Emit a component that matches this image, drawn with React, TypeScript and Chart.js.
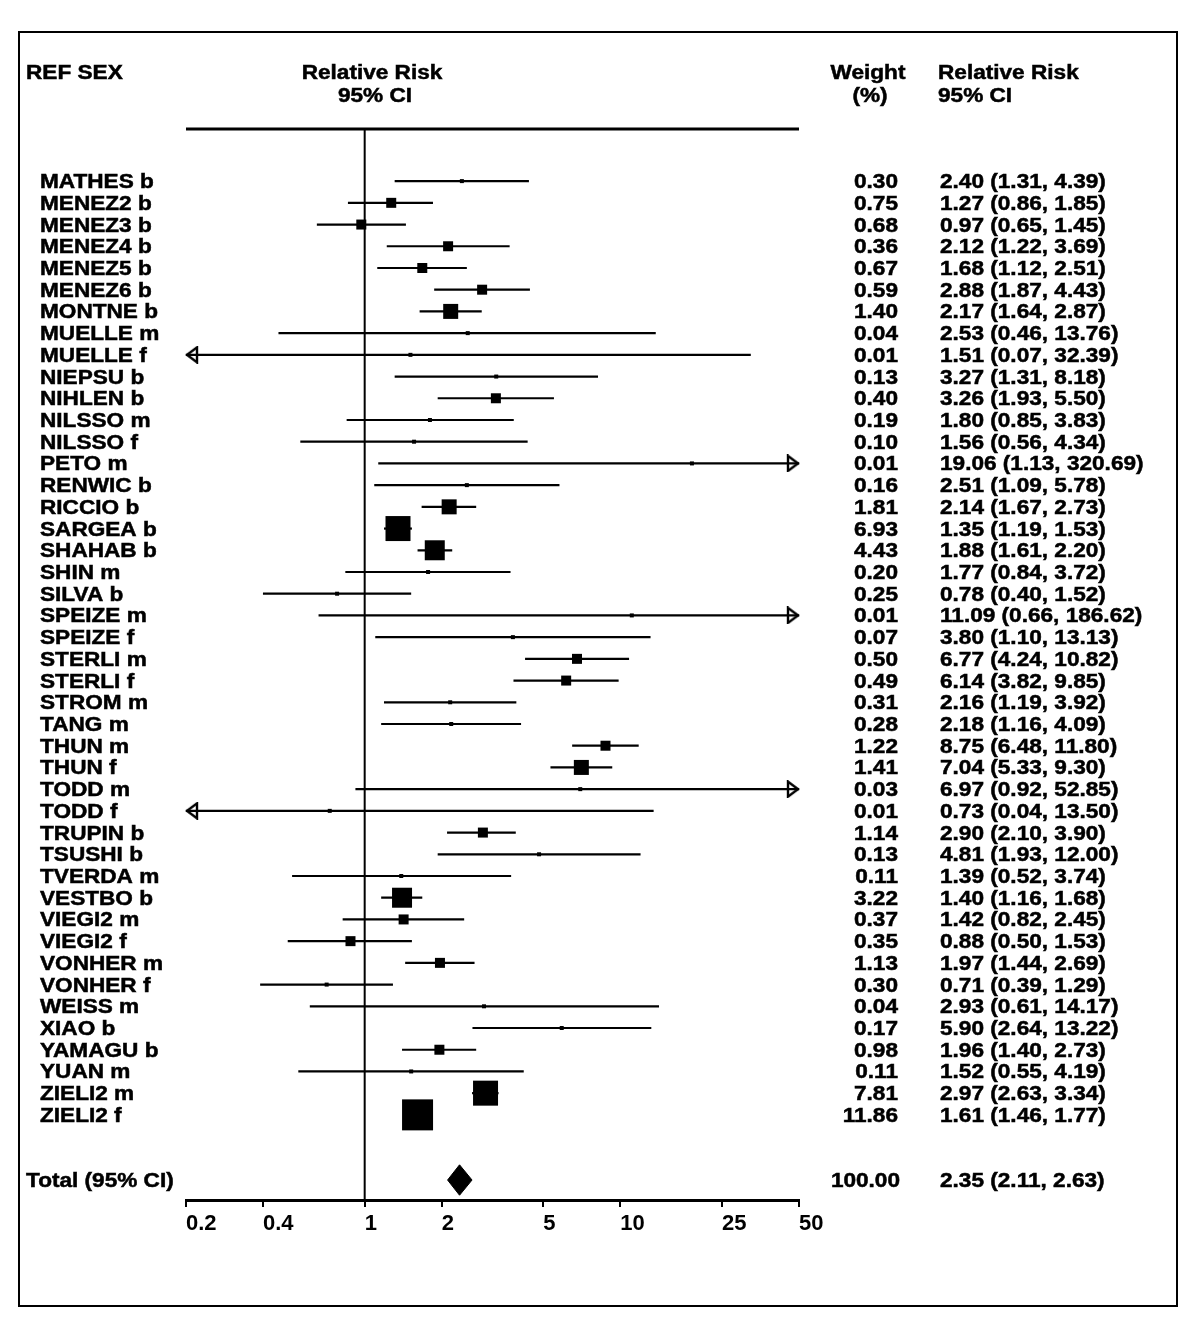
import React, { useEffect, useRef } from 'react';
import { Chart, registerables } from 'chart.js';

Chart.register(...registerables);

// ---------------- data ----------------
const studies = [
  'MATHES b', 'MENEZ2 b', 'MENEZ3 b', 'MENEZ4 b', 'MENEZ5 b', 'MENEZ6 b', 'MONTNE b', 'MUELLE m', 'MUELLE f',
  'NIEPSU b', 'NIHLEN b', 'NILSSO m', 'NILSSO f', 'PETO m', 'RENWIC b', 'RICCIO b', 'SARGEA b', 'SHAHAB b',
  'SHIN m', 'SILVA b', 'SPEIZE m', 'SPEIZE f', 'STERLI m', 'STERLI f', 'STROM m', 'TANG m', 'THUN m', 'THUN f',
  'TODD m', 'TODD f', 'TRUPIN b', 'TSUSHI b', 'TVERDA m', 'VESTBO b', 'VIEGI2 m', 'VIEGI2 f', 'VONHER m',
  'VONHER f', 'WEISS m', 'XIAO b', 'YAMAGU b', 'YUAN m', 'ZIELI2 m', 'ZIELI2 f',
];
const weights = [
  0.30, 0.75, 0.68, 0.36, 0.67, 0.59, 1.40, 0.04, 0.01,
  0.13, 0.40, 0.19, 0.10, 0.01, 0.16, 1.81, 6.93, 4.43,
  0.20, 0.25, 0.01, 0.07, 0.50, 0.49, 0.31, 0.28, 1.22, 1.41,
  0.03, 0.01, 1.14, 0.13, 0.11, 3.22, 0.37, 0.35, 1.13,
  0.30, 0.04, 0.17, 0.98, 0.11, 7.81, 11.86,
];
const relRisk = [
  2.40, 1.27, 0.97, 2.12, 1.68, 2.88, 2.17, 2.53, 1.51,
  3.27, 3.26, 1.80, 1.56, 19.06, 2.51, 2.14, 1.35, 1.88,
  1.77, 0.78, 11.09, 3.80, 6.77, 6.14, 2.16, 2.18, 8.75, 7.04,
  6.97, 0.73, 2.90, 4.81, 1.39, 1.40, 1.42, 0.88, 1.97,
  0.71, 2.93, 5.90, 1.96, 1.52, 2.97, 1.61,
];
const ciLower = [
  1.31, 0.86, 0.65, 1.22, 1.12, 1.87, 1.64, 0.46, 0.07,
  1.31, 1.93, 0.85, 0.56, 1.13, 1.09, 1.67, 1.19, 1.61,
  0.84, 0.40, 0.66, 1.10, 4.24, 3.82, 1.19, 1.16, 6.48, 5.33,
  0.92, 0.04, 2.10, 1.93, 0.52, 1.16, 0.82, 0.50, 1.44,
  0.39, 0.61, 2.64, 1.40, 0.55, 2.63, 1.46,
];
const ciUpper = [
  4.39, 1.85, 1.45, 3.69, 2.51, 4.43, 2.87, 13.76, 32.39,
  8.18, 5.50, 3.83, 4.34, 320.69, 5.78, 2.73, 1.53, 2.20,
  3.72, 1.52, 186.62, 13.13, 10.82, 9.85, 3.92, 4.09, 11.80, 9.30,
  52.85, 13.50, 3.90, 12.00, 3.74, 1.68, 2.45, 1.53, 2.69,
  1.29, 14.17, 13.22, 2.73, 4.19, 3.34, 1.77,
];
const totalLabel = 'Total (95% CI)';
const totalWeight = 100.0;
const totalRR = 2.35;
const totalLower = 2.11;
const totalUpper = 2.63;
const xTickValues = [0.2, 0.4, 1, 2, 5, 10, 25, 50];
const X_MIN = 0.2;
const X_MAX = 50;

// ---------------- layout / style ----------------
const TOTAL_ROW = 46;
const Y_MIN = -2.4;
const Y_MAX = 46.92;
const W = 1184;
const H = 1310;
const FONT = 'bold 20px "Liberation Sans", Arial, Helvetica, sans-serif';
const SX = 1.13;

function markerSide(w: number): number {
  if (w < 0.33) return 4;
  if (w < 1.3) return 10;
  if (w < 2) return 15;
  if (w < 5) return 20;
  if (w < 10) return 25;
  return 31;
}

function makeArrow(): HTMLCanvasElement {
  const c = document.createElement('canvas');
  c.width = 28;
  c.height = 18;
  const g = c.getContext('2d')!;
  g.strokeStyle = '#000';
  g.lineWidth = 2.4;
  g.beginPath();
  g.moveTo(13, 9);
  g.lineTo(3, 1.5);
  g.lineTo(3, 16.5);
  g.closePath();
  g.stroke();
  return c;
}

function drawText(ctx: CanvasRenderingContext2D, s: string, x: number, y: number, align: CanvasTextAlign) {
  ctx.save();
  ctx.translate(x, y + 7);
  ctx.scale(SX, 1);
  ctx.textAlign = align;
  ctx.textBaseline = 'alphabetic';
  ctx.fillText(s, 0, 0);
  ctx.strokeText(s, 0, 0);
  ctx.restore();
}

const f2 = (v: number) => v.toFixed(2);

const textPlugin = {
  id: 'forestText',
  beforeDraw(chart: any) {
    const ctx: CanvasRenderingContext2D = chart.ctx;
    ctx.save();
    ctx.fillStyle = '#fff';
    ctx.fillRect(0, 0, chart.width, chart.height);
    ctx.strokeStyle = '#000';
    ctx.lineWidth = 2;
    ctx.strokeRect(11, 24, 1158, 1274);
    ctx.restore();
  },
  afterDraw(chart: any) {
    const ctx: CanvasRenderingContext2D = chart.ctx;
    const ys = chart.scales.y;
    const { left, right, top } = chart.chartArea;
    ctx.save();
    // top rule
    ctx.strokeStyle = '#000';
    ctx.lineWidth = 3;
    ctx.beginPath();
    ctx.moveTo(left, top);
    ctx.lineTo(right, top);
    ctx.stroke();

    ctx.fillStyle = '#000';
    ctx.strokeStyle = '#000';
    ctx.lineWidth = 0.5;
    ctx.font = FONT;
    // headers
    drawText(ctx, 'REF SEX', 18, 64, 'left');
    drawText(ctx, 'Relative Risk', 364, 64, 'center');
    drawText(ctx, '95% CI', 367, 87, 'center');
    drawText(ctx, 'Weight', 860, 64, 'center');
    drawText(ctx, '(%)', 862, 87, 'center');
    drawText(ctx, 'Relative Risk', 930, 64, 'left');
    drawText(ctx, '95% CI', 930, 87, 'left');

    studies.forEach((name, i) => {
      const y = ys.getPixelForValue(i);
      drawText(ctx, name, 32, y, 'left');
      drawText(ctx, f2(weights[i]), 890, y, 'right');
      drawText(ctx, `${f2(relRisk[i])} (${f2(ciLower[i])}, ${f2(ciUpper[i])})`, 932, y, 'left');
    });
    const ty = ys.getPixelForValue(TOTAL_ROW);
    drawText(ctx, totalLabel, 18, ty, 'left');
    drawText(ctx, f2(totalWeight), 892, ty, 'right');
    drawText(ctx, `${f2(totalRR)} (${f2(totalLower)}, ${f2(totalUpper)})`, 932, ty, 'left');
    ctx.restore();
  },
};

export default function App() {
  const ref = useRef<HTMLCanvasElement | null>(null);

  useEffect(() => {
    if (!ref.current) return;
    const arrow = makeArrow();

    const ciSets = studies.map((_, i) => ({
      type: 'scatter' as const,
      data: [
        { x: Math.max(ciLower[i], X_MIN), y: i },
        { x: Math.min(ciUpper[i], X_MAX), y: i },
      ],
      showLine: true,
      borderColor: '#000',
      borderWidth: 2.2,
      pointRadius: 0,
      clip: false as any,
      order: 3,
    }));

    const arrowData: any[] = [];
    studies.forEach((_, i) => {
      if (ciLower[i] < X_MIN) arrowData.push({ x: X_MIN, y: i, dir: 'left' });
      if (ciUpper[i] > X_MAX) arrowData.push({ x: X_MAX, y: i, dir: 'right' });
    });

    const chart = new Chart(ref.current, {
      type: 'scatter',
      data: {
        datasets: [
          {
            data: relRisk.map((v, i) => ({ x: v, y: i })),
            pointStyle: 'rect',
            pointRadius: weights.map((w) => markerSide(w) / Math.SQRT2),
            backgroundColor: '#000',
            borderWidth: 0,
            pointBorderWidth: 0,
            clip: false as any,
            order: 0,
          } as any,
          {
            data: arrowData,
            pointStyle: arrow as any,
            pointRadius: 1,
            pointRotation: (c: any) => (c.raw && c.raw.dir === 'left' ? 180 : 0),
            clip: false as any,
            order: 1,
          } as any,
          {
            data: [
              { x: totalLower, y: TOTAL_ROW },
              { x: totalRR, y: TOTAL_ROW - 0.7 },
              { x: totalUpper, y: TOTAL_ROW },
              { x: totalRR, y: TOTAL_ROW + 0.7 },
              { x: totalLower, y: TOTAL_ROW },
            ],
            showLine: true,
            fill: 'shape',
            backgroundColor: '#000',
            borderColor: '#000',
            borderWidth: 1,
            pointRadius: 0,
            tension: 0,
            clip: false as any,
            order: 2,
          } as any,
          {
            data: [
              { x: 1, y: Y_MIN },
              { x: 1, y: Y_MAX },
            ],
            showLine: true,
            borderColor: '#000',
            borderWidth: 2,
            pointRadius: 0,
            clip: false as any,
            order: 4,
          } as any,
          ...ciSets,
        ],
      },
      options: {
        animation: false,
        responsive: false,
        devicePixelRatio: 1,
        layout: { padding: { left: 178, right: 393, top: 121, bottom: 78 } },
        plugins: { legend: { display: false }, tooltip: { enabled: false } },
        events: [],
        scales: {
          x: {
            type: 'logarithmic',
            min: X_MIN,
            max: X_MAX,
            position: 'bottom',
            afterBuildTicks: (s: any) => {
              s.ticks = xTickValues.map((v) => ({ value: v }));
            },
            afterFit: (s: any) => {
              s.height = 40;
            },
            ticks: {
              callback: (v: any) => String(v),
              align: 'start',
              autoSkip: false,
              maxRotation: 0,
              minRotation: 0,
              padding: 4,
              color: '#000',
              font: { family: '"Liberation Sans", Arial, sans-serif', size: 22, weight: 'bold' },
            },
            grid: {
              display: true,
              drawOnChartArea: false,
              drawTicks: true,
              tickLength: 7,
              tickWidth: 2,
              tickColor: '#000',
              color: '#000',
              lineWidth: 2,
            },
            border: { display: true, color: '#000', width: 3 },
          } as any,
          y: {
            type: 'linear',
            reverse: true,
            min: Y_MIN,
            max: Y_MAX,
            display: false,
          },
        },
      },
      plugins: [textPlugin],
    });
    return () => chart.destroy();
  }, []);

  return (
    <div style={{ width: W, height: H }}>
      <canvas ref={ref} width={W} height={H} style={{ display: 'block', width: W, height: H }} />
    </div>
  );
}
